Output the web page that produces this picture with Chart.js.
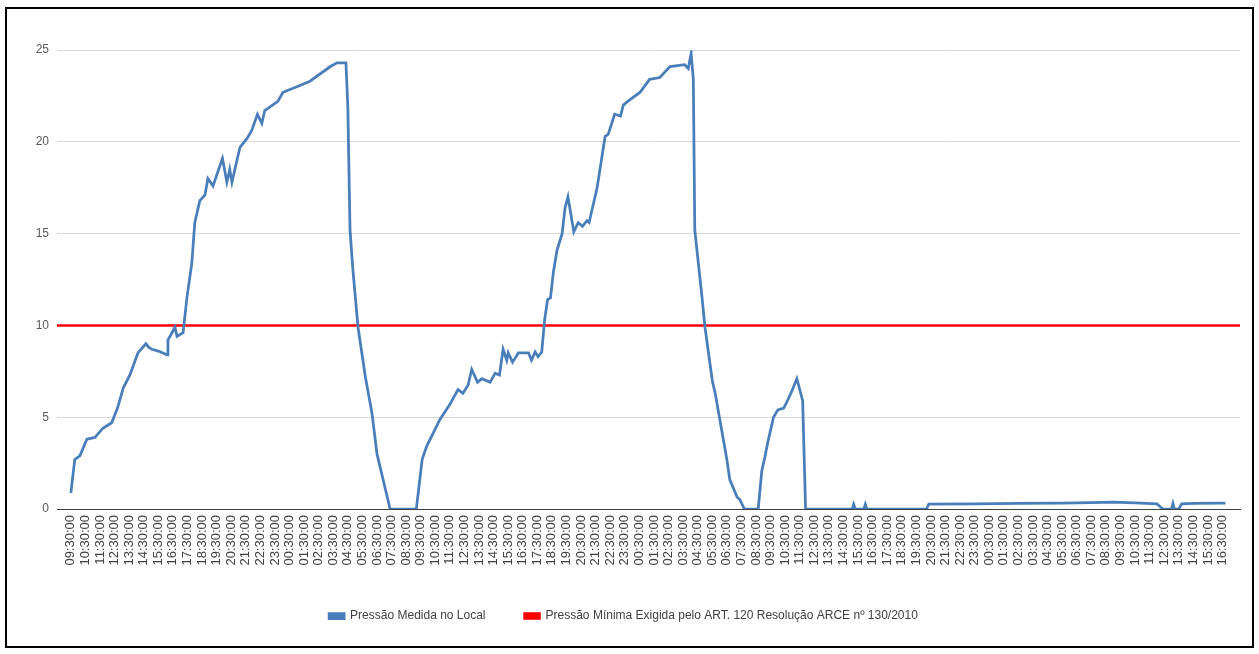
<!DOCTYPE html>
<html>
<head>
<meta charset="utf-8">
<script src="https://cdn.jsdelivr.net/npm/chart.js@4"></script>
<style>
	body { margin: 0; background: #fff; }
	#frame { position: absolute; left: 5px; top: 7px; width: 1249px; height: 641px; border: 2px solid #000; box-sizing: border-box; }
	#frame canvas { display: block; }
</style>
</head>
<body>
<div id="frame"><canvas id="pressao" width="1245" height="637"></canvas></div>
<script>
// horas decorridas desde 09:30:00 do primeiro dia
var hours = [
	0, 0.27, 0.62, 1.1, 1.65, 2.2, 2.8, 3.2, 3.6, 4.05, 4.6, 5.15, 5.35, 5.56, 6.0, 6.6, 6.66, 7.14, 7.28, 7.7,
	7.96, 8.3, 8.5, 8.85, 9.2, 9.4, 9.75, 10.4, 10.7, 10.9, 11.05, 11.6, 12.1, 12.4, 12.8, 13.1, 13.3, 14.2, 14.55, 15.5,
	16.4, 17.8, 18.26, 18.87, 19.0, 19.15, 19.35, 19.7, 20.2, 20.66, 21.0, 21.9, 23.7, 24.1, 24.4, 25.3, 26.0, 26.56, 26.9, 27.25,
	27.5, 27.9, 28.2, 28.76, 29.1, 29.4, 29.65, 29.9, 30.0, 30.3, 30.7, 31.4, 31.6, 31.85, 32.05, 32.3, 32.5, 32.7, 32.9, 33.1,
	33.35, 33.7, 33.9, 34.1, 34.5, 34.8, 35.1, 35.4, 35.55, 36.1, 36.65, 36.86, 37.3, 37.7, 37.9, 38.2, 39.05, 39.7, 40.4, 41.1,
	42.1, 42.35, 42.55, 42.7, 42.8, 43.3, 43.5, 44.0, 44.2, 45.0, 45.2, 45.7, 45.9, 46.2, 47.15, 47.4, 47.6, 47.8, 48.2, 48.5,
	48.9, 49.1, 49.5, 49.8, 50.2, 50.4, 53.6, 53.7, 53.8, 54.4, 54.5, 54.6, 58.7, 58.85, 62, 65, 68, 70, 71.5, 73,
	74.5, 74.9, 75.5, 75.6, 75.7, 76.0, 76.2, 77, 79.2
];
var pressure = [
	0.87, 2.7, 2.9, 3.8, 3.9, 4.4, 4.7, 5.5, 6.6, 7.3, 8.5, 9.0, 8.8, 8.7, 8.6, 8.4, 9.2, 9.9, 9.4, 9.6,
	11.5, 13.4, 15.6, 16.8, 17.1, 18.0, 17.6, 19.1, 17.8, 18.5, 17.8, 19.7, 20.2, 20.6, 21.5, 21.0, 21.7, 22.2, 22.7, 23.0,
	23.3, 24.1, 24.3, 24.3, 21.9, 15.2, 13.0, 9.9, 7.2, 5.2, 3.0, 0, 0, 2.7, 3.4, 4.85, 5.7, 6.5, 6.3, 6.75,
	7.6, 6.9, 7.1, 6.9, 7.4, 7.3, 8.7, 8.1, 8.5, 8.0, 8.5, 8.5, 8.1, 8.55, 8.3, 8.55, 10.3, 11.4, 11.5, 12.9,
	14.1, 15.0, 16.4, 17.0, 15.1, 15.6, 15.4, 15.7, 15.6, 17.5, 20.3, 20.4, 21.5, 21.4, 22.0, 22.2, 22.7, 23.4, 23.5, 24.1,
	24.2, 24.0, 24.8, 23.4, 15.2, 11.5, 9.9, 7.0, 6.3, 2.7, 1.6, 0.65, 0.5, 0, 0, 2.1, 2.8, 3.6, 5.0, 5.4,
	5.5, 5.8, 6.5, 7.1, 5.9, 0, 0, 0.25, 0, 0, 0.25, 0, 0, 0.27, 0.28, 0.3, 0.32, 0.35, 0.37, 0.33,
	0.28, 0, 0, 0.3, 0, 0, 0.28, 0.3, 0.32
];
var minPressure = 10;
var axisMin = -0.95;
var axisMax = 80.2;
var yTicks = [0, 5, 10, 15, 20, 25];

// rótulos horários 09:30:00 ... 16:30:00 (quarto dia)
var hourLabels = [];
for (var i = 0; i < 80; i++) {
	var hh = (9 + i) % 24;
	hourLabels.push((hh < 10 ? '0' : '') + hh + ':30:00');
}

var measured = hours.map(function(h, k) { return {x: h, y: pressure[k]}; });
var limitLine = [{x: axisMin, y: minPressure}, {x: axisMax, y: minPressure}];

var config = {
	type: 'line',
	data: {
		datasets: [{
			label: 'Pressão Medida no Local',
			data: measured,
			borderColor: '#4a7ebb',
			backgroundColor: '#4a7ebb',
			borderWidth: 2.75,
			pointRadius: 0,
			tension: 0
		}, {
			label: 'Pressão Mínima Exigida pelo ART. 120 Resolução ARCE nº 130/2010',
			data: limitLine,
			borderColor: '#ff0000',
			backgroundColor: '#ff0000',
			borderWidth: 2.5,
			pointRadius: 0,
			tension: 0
		}]
	},
	options: {
		responsive: false,
		animation: false,
		layout: { padding: { top: 41, right: 12, left: 0, bottom: 14 } },
		plugins: {
			tooltip: { enabled: false },
			legend: {
				position: 'bottom',
				labels: {
					boxWidth: 15,
					boxHeight: 5,
					padding: 39,
					color: '#404040',
					font: { family: 'Liberation Sans', size: 12 }
				}
			}
		},
		scales: {
			x: {
				type: 'linear',
				min: axisMin,
				max: axisMax,
				afterBuildTicks: function(scale) {
					scale.ticks = hourLabels.map(function(t, k) { return {value: k}; });
				},
				afterFit: function(scale) { scale.height = 62; },
				ticks: {
					autoSkip: false,
					minRotation: 90,
					maxRotation: 90,
					padding: 6,
					color: '#404040',
					font: { family: 'Liberation Sans', size: 13 },
					callback: function(v) { return hourLabels[v]; }
				},
				grid: { display: false, drawTicks: false },
				border: { display: true, color: '#404040', width: 1 }
			},
			y: {
				min: 0,
				max: 25,
				afterBuildTicks: function(scale) {
					scale.ticks = yTicks.map(function(v) { return {value: v}; });
				},
				afterFit: function(scale) { scale.width = 50; },
				ticks: {
					padding: 8,
					color: '#595959',
					font: { family: 'Liberation Sans', size: 12 }
				},
				grid: { color: '#d9d9d9', drawTicks: false },
				border: { display: false }
			}
		}
	}
};

window.onload = function() {
	window.myLine = new Chart(document.getElementById('pressao'), config);
};
</script>
</body>
</html>
